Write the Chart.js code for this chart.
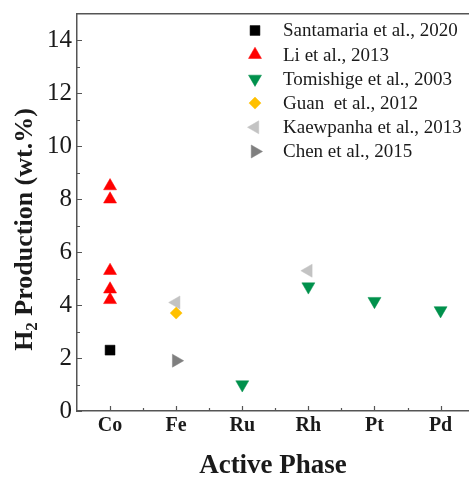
<!DOCTYPE html>
<html>
<head>
<meta charset="utf-8">
<style>
html,body{margin:0;padding:0;background:#fff;overflow:hidden;}
#wrap{width:469px;height:477px;position:relative;}
</style>
<script src="https://cdn.jsdelivr.net/npm/chart.js@4.4.0/dist/chart.umd.min.js"></script>
</head>
<body>
<div id="wrap"><canvas id="c" width="469" height="477"></canvas></div>
<script>
// ---- Data ----
const categories = ['Co', 'Fe', 'Ru', 'Rh', 'Pt', 'Pd'];
const yTickValues = [0, 2, 4, 6, 8, 10, 12, 14];

const santamariaCat = ['Co'];
const santamariaVal = [2.3];
const liCat = ['Co', 'Co', 'Co', 'Co', 'Co'];
const liVal = [8.5, 8.0, 5.3, 4.6, 4.2];
const tomishigeCat = ['Ru', 'Rh', 'Pt', 'Pd'];
const tomishigeVal = [1.0, 4.7, 4.15, 3.8];
const guanCat = ['Fe'];
const guanVal = [3.7];
const kaewpanhaCat = ['Fe', 'Rh'];
const kaewpanhaVal = [4.1, 5.3];
const chenCat = ['Fe'];
const chenVal = [1.9];

const seriesLabels = ['Santamaria et al., 2020', 'Li et al., 2013', 'Tomishige et al., 2003',
  'Guan  et al., 2012', 'Kaewpanha et al., 2013', 'Chen et al., 2015'];

function pts(cats, vals) {
  return cats.map((c, i) => ({ x: categories.indexOf(c), y: vals[i] }));
}

const styles = [
  { color: '#000000', pointStyle: 'rect', rotation: 0, radius: 7 },
  { color: '#ff0000', pointStyle: 'triangle', rotation: 0, radius: 7.5 },
  { color: '#00914c', pointStyle: 'triangle', rotation: 180, radius: 7.5 },
  { color: '#ffc000', pointStyle: 'rectRot', rotation: 0, radius: 6 },
  { color: '#c3c3c3', pointStyle: 'triangle', rotation: 270, radius: 7.5 },
  { color: '#7f7f7f', pointStyle: 'triangle', rotation: 90, radius: 7.5 }
];

const seriesData = [
  pts(santamariaCat, santamariaVal),
  pts(liCat, liVal),
  pts(tomishigeCat, tomishigeVal),
  pts(guanCat, guanVal),
  pts(kaewpanhaCat, kaewpanhaVal),
  pts(chenCat, chenVal)
];

const datasets = seriesData.map((d, i) => ({
  label: seriesLabels[i],
  data: d,
  backgroundColor: styles[i].color,
  borderColor: styles[i].color,
  borderWidth: 0.5,
  pointStyle: styles[i].pointStyle,
  rotation: styles[i].rotation,
  pointRadius: styles[i].radius,
  pointHoverRadius: styles[i].radius
}));

const AXIS_COLOR = '#555555';
const SERIF = '"Liberation Serif", "Times New Roman", serif';

function noPad(scale) {
  scale.paddingTop = 0; scale.paddingBottom = 0;
  scale.paddingLeft = 0; scale.paddingRight = 0;
}

// inward ticks + legend + y title
const decorPlugin = {
  id: 'decor',
  afterDraw(chart) {
    const ctx = chart.ctx;
    const xs = chart.scales.x, ys = chart.scales.y;
    const area = chart.chartArea;
    ctx.save();
    ctx.strokeStyle = AXIS_COLOR;
    ctx.lineWidth = 1.2;
    ctx.beginPath();
    for (let v = 0; v <= 15; v++) {
      const py = Math.round(ys.getPixelForValue(v)) + 0.5;
      const len = (v % 2 === 0) ? 5 : 3;
      if (py < area.top + 2) continue;
      ctx.moveTo(area.left, py);
      ctx.lineTo(area.left + len, py);
    }
    for (let k = 0; k < categories.length; k++) {
      const px = Math.round(xs.getPixelForValue(k)) + 0.5;
      ctx.moveTo(px, area.bottom);
      ctx.lineTo(px, area.bottom - 5);
      const pm = Math.round(xs.getPixelForValue(k + 0.5)) + 0.5;
      if (pm < area.right - 1) {
        ctx.moveTo(pm, area.bottom);
        ctx.lineTo(pm, area.bottom - 3);
      }
    }
    ctx.stroke();

    // legend
    const lx = 255, ly0 = 30.5, dy = 24.2, tx = 283;
    ctx.font = '19px ' + SERIF;
    ctx.textAlign = 'left';
    ctx.textBaseline = 'middle';
    chart.data.datasets.forEach((ds, i) => {
      const y = ly0 + i * dy;
      ctx.fillStyle = ds.backgroundColor;
      ctx.strokeStyle = ds.borderColor;
      ctx.lineWidth = ds.borderWidth;
      if (Chart.helpers && Chart.helpers.drawPoint) {
        Chart.helpers.drawPoint(ctx, {
          pointStyle: ds.pointStyle, rotation: ds.rotation,
          radius: ds.pointRadius, borderWidth: ds.borderWidth
        }, lx, y);
      }
      ctx.fillStyle = '#1a1a1a';
      ctx.fillText(ds.label, tx, y + 1);
    });

    // y axis title
    ctx.save();
    ctx.translate(32, 229.5);
    ctx.rotate(-Math.PI / 2);
    ctx.fillStyle = '#1a1a1a';
    ctx.textBaseline = 'alphabetic';
    const fBig = 'bold 26px ' + SERIF, fSub = 'bold 17px ' + SERIF;
    const p1 = 'H', p2 = '2', p3 = ' Production (wt.%)';
    ctx.font = fBig; const w1 = ctx.measureText(p1).width, w3 = ctx.measureText(p3).width;
    ctx.font = fSub; const w2 = ctx.measureText(p2).width;
    let x0 = -(w1 + w2 + w3) / 2;
    ctx.textAlign = 'left';
    ctx.font = fBig; ctx.fillText(p1, x0, 0);
    ctx.font = fSub; ctx.fillText(p2, x0 + w1, 5);
    ctx.font = fBig; ctx.fillText(p3, x0 + w1 + w2, 0);
    ctx.restore();

    ctx.restore();
  }
};

new Chart(document.getElementById('c'), {
  type: 'scatter',
  data: { datasets },
  plugins: [decorPlugin],
  options: {
    responsive: false,
    animation: false,
    devicePixelRatio: 1,
    layout: { padding: 0, autoPadding: false },
    plugins: { legend: { display: false }, tooltip: { enabled: false } },
    scales: {
      x: {
        type: 'linear',
        position: 'bottom',
        min: -0.5,
        max: 5.43,
        afterBuildTicks(scale) { scale.ticks = categories.map((c, i) => ({ value: i })); },
        afterFit(scale) { scale.height = 66; noPad(scale); },
        ticks: {
          callback: (v) => categories[v] !== undefined ? categories[v] : '',
          font: { family: SERIF, size: 20, weight: 'bold', lineHeight: 1 },
          color: '#1a1a1a',
          padding: 5,
          maxRotation: 0,
          autoSkip: false
        },
        grid: { display: false, drawTicks: false },
        border: { display: true, color: AXIS_COLOR, width: 1.5 },
        title: {
          display: true,
          text: 'Active Phase',
          font: { family: SERIF, size: 27, weight: 'bold', lineHeight: '22px' },
          color: '#1a1a1a',
          padding: 0
        }
      },
      xTop: {
        type: 'linear',
        position: 'top',
        min: -0.5,
        max: 5.43,
        ticks: { display: false },
        grid: { display: false, drawTicks: false },
        border: { display: true, color: AXIS_COLOR, width: 1.5 },
        afterFit(scale) { scale.height = 14; noPad(scale); }
      },
      y: {
        type: 'linear',
        position: 'left',
        min: 0,
        max: 15,
        afterBuildTicks(scale) { scale.ticks = yTickValues.map(v => ({ value: v })); },
        afterFit(scale) { scale.width = 77; noPad(scale); },
        ticks: {
          font: { family: SERIF, size: 25, lineHeight: 1 },
          color: '#1a1a1a',
          padding: 5
        },
        grid: { display: false, drawTicks: false },
        border: { display: true, color: AXIS_COLOR, width: 1.5 }
      }
    }
  }
});
</script>
</body>
</html>
